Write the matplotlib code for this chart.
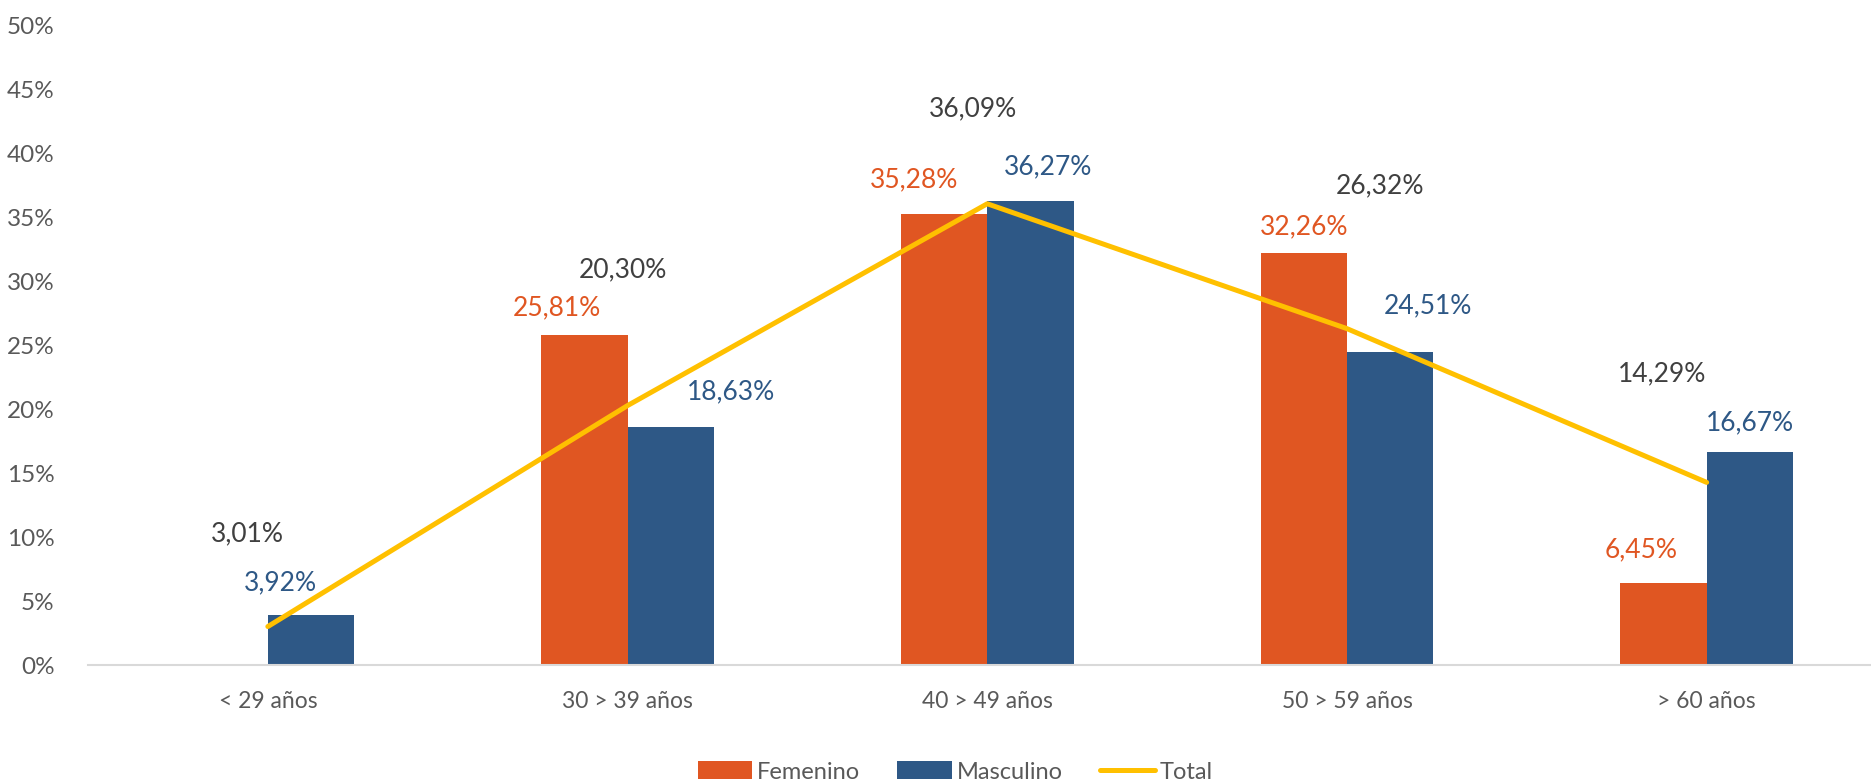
import numpy as np
import matplotlib.pyplot as plt

categorias = ['< 29 años', '30 > 39 años', '40 > 49 años', '50 > 59 años', '> 60 años']
femenino = [0.0, 25.81, 35.28, 32.26, 6.45]
masculino = [3.92, 18.63, 36.27, 24.51, 16.67]
total = [3.01, 20.30, 36.09, 26.32, 14.29]

# label shifts (pixels) as placed in the original chart
fem_off = [(0, 0), (-28, 27), (-30, 34), (0, 26), (-22, 33)]
mas_off = [(-31, 32), (60, 35), (18, 35), (38, 46), (0, 29)]
tot_off = [(-20, 93), (-5, 136), (-14, 95), (33, 143), (-45, 109)]

NARANJA = '#E05622'
AZUL = '#2E5886'
AMARILLO = '#FFC000'
GRIS = '#595959'

plt.rcParams['font.family'] = ['Lato', 'DejaVu Sans']

fig = plt.figure(figsize=(18.71, 7.83), dpi=100)
ax = fig.add_axes([88 / 1871, 1 - 665 / 783, 5 * 359.7 / 1871, 639 / 783])

x = np.arange(len(categorias))
w = 0.24
b1 = ax.bar(x - w / 2, femenino, w, color=NARANJA, label='Femenino', zorder=2)
b2 = ax.bar(x + w / 2, masculino, w, color=AZUL, label='Masculino', zorder=2)
ln, = ax.plot(x, total, color=AMARILLO, lw=3.6, solid_capstyle='round', label='Total', zorder=3)


def fmt(v):
    return f'{v:.2f}%'.replace('.', ',')


def etiqueta(xv, yv, off, color):
    ax.annotate(fmt(yv), (xv, yv), xytext=(off[0] * 0.72, off[1] * 0.72),
                textcoords='offset points', ha='center', va='center',
                fontsize=19, color=color, zorder=4)


for i in range(len(categorias)):
    if femenino[i] > 0:
        etiqueta(x[i] - w / 2, femenino[i], fem_off[i], NARANJA)
    etiqueta(x[i] + w / 2, masculino[i], mas_off[i], AZUL)
    etiqueta(x[i], total[i], tot_off[i], '#404040')

ax.set_xlim(-0.5, 4.5)
ax.set_ylim(0, 50)
ax.set_yticks(np.arange(0, 51, 5))
ax.set_yticklabels([f'{t}%' for t in range(0, 51, 5)])
ax.set_xticks(x)
ax.set_xticklabels(categorias)
ax.tick_params(axis='both', length=0, labelcolor=GRIS)
ax.tick_params(axis='y', pad=24, labelsize=17.5)
ax.tick_params(axis='x', pad=19, labelsize=16.5)
for s in ['top', 'right', 'left']:
    ax.spines[s].set_visible(False)
ax.spines['bottom'].set_color('#D9D9D9')
ax.spines['bottom'].set_linewidth(1.5)

leg = fig.legend([b1, b2, ln], ['Femenino', 'Masculino', 'Total'], loc='center',
                 bbox_to_anchor=(955 / 1871, 1 - 772 / 783), ncol=3,
                 frameon=False, fontsize=17, handlelength=2.3, handleheight=0.8,
                 columnspacing=1.6, handletextpad=0.2)
for t in leg.get_texts():
    t.set_color(GRIS)

fig.savefig('out.png', dpi=100)
